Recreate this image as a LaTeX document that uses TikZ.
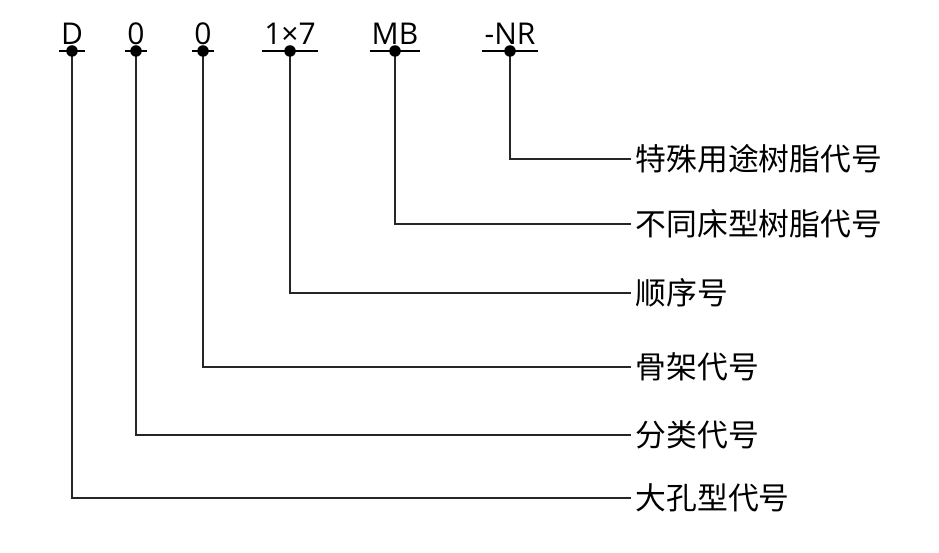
\documentclass[tikz,border=0pt]{standalone}
\usepackage{fontspec}
\setmainfont{Noto Sans CJK SC}
\newfontfamily\latinfont{Open Sans}
\begin{document}
\begin{tikzpicture}[x=1pt,y=-1pt,
  code/.style={anchor=south,inner xsep=2pt,inner ysep=6pt,text depth=0pt,font=\latinfont\fontsize{30}{34}\selectfont},
  desc/.style={anchor=west,inner xsep=4.5pt,inner ysep=0pt,font=\fontsize{30.8}{34}\selectfont},
  conn/.style={line width=1.3pt,black!85},
  uline/.style={line width=1.5pt},
  dot/.style={circle,fill=black,inner sep=0pt,minimum size=11.5pt}]
\useasboundingbox (0,0) rectangle (939,553);
% top code labels
\node[code] (cD)  at (72,51)  {D};
\node[code] (c01) at (136,51) {0};
\node[code] (c02) at (203,51) {0};
\node[code] (c17) at (290,51) {1×7};
\node[code] (cMB) at (395,51) {MB};
\node[code] (cNR) at (510,51) {-NR};
% underlines
\foreach \n in {cD,c01,c02,c17,cMB,cNR}
  \draw[uline] (\n.south west) -- (\n.south east);
% right descriptions
\node[desc] (dNR) at (631,159) {特殊用途树脂代号};
\node[desc] (dMB) at (631,224) {不同床型树脂代号};
\node[desc] (d17) at (631,293) {顺序号};
\node[desc] (d02) at (631,367) {骨架代号};
\node[desc] (d01) at (631,435) {分类代号};
\node[desc] (dD)  at (631,498) {大孔型代号};
% connectors
\foreach \c/\d in {cNR/dNR,cMB/dMB,c17/d17,c02/d02,c01/d01,cD/dD}
  \draw[conn] (\c.south) |- (\d.west);
% dots
\foreach \n in {cD,c01,c02,c17,cMB,cNR}
  \node[dot] (p\n) at (\n.south) {};
\end{tikzpicture}
\end{document}
